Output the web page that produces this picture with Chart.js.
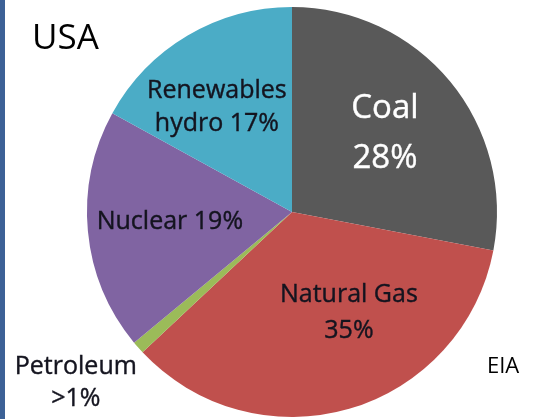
<!DOCTYPE html>
<html>
<head>
<meta charset="utf-8">
<script src="https://cdn.jsdelivr.net/npm/chart.js@4"></script>
<style>
  html, body { margin: 0; padding: 0; background: #ffffff; }
  #wrap { width: 540px; height: 419px; position: relative; }
</style>
</head>
<body>
<div id="wrap"><canvas id="c" width="540" height="419"></canvas></div>
<script>
// US electricity generation by source (share, %)
const categories = ['Coal', 'Natural Gas', 'Petroleum', 'Nuclear', 'Renewables hydro'];
const shares = [28, 35, 1, 19, 17];
// how each share is written on the chart
const sharePrefix = ['', '', '>', '', ''];
const sliceColors = ['#595959', '#C0504D', '#9BBB59', '#8064A2', '#4BACC6'];
const title = 'USA';
const source = 'EIA';

const FONT = '"Open Sans", "Liberation Sans", sans-serif';
const DARK = '#14141f';

// label lines per slice: text is composed from the category and share
function labelLines(i) {
  const pct = sharePrefix[i] + shares[i] + '%';
  switch (categories[i]) {
    case 'Nuclear': return [categories[i] + ' ' + pct];
    case 'Renewables hydro': return ['Renewables', 'hydro ' + pct];
    default: return [categories[i], pct];
  }
}

// placement of each label block: compass angle (deg, clockwise from top) and distance as a fraction of the radius
const labelPlacement = [
  { angle: 49.1,  dist: 0.600, size: 33, gap: 50, color: '#ffffff' },
  { angle: 150.1, dist: 0.557, size: 25, gap: 36, color: DARK },
  { angle: 231.9, dist: 1.340, size: 25, gap: 32, color: DARK },
  { angle: 266.2, dist: 0.597, size: 25, gap: 0,  color: DARK },
  { angle: 324.7, dist: 0.634, size: 25, gap: 33, color: DARK }
];

const decorPlugin = {
  id: 'decor',
  beforeDraw(chart) {
    const ctx = chart.ctx;
    ctx.save();
    ctx.fillStyle = '#ffffff';
    ctx.fillRect(0, 0, chart.width, chart.height);
    // frame bar on the left edge
    ctx.fillStyle = '#3C6196';
    ctx.fillRect(0, 0, 5, chart.height);
    ctx.restore();
  },
  afterDatasetsDraw(chart) {
    const ctx = chart.ctx;
    const arcs = chart.getDatasetMeta(0).data;
    ctx.save();
    ctx.textAlign = 'center';
    ctx.textBaseline = 'alphabetic';
    arcs.forEach((arc, i) => {
      const p = labelPlacement[i];
      const a = p.angle * Math.PI / 180;
      const cx = arc.x + Math.sin(a) * arc.outerRadius * p.dist;
      const cy = arc.y - Math.cos(a) * arc.outerRadius * p.dist;
      const lines = labelLines(i);
      ctx.font = p.size + 'px ' + FONT;
      ctx.fillStyle = p.color;
      ctx.strokeStyle = p.color;
      ctx.lineWidth = 0.4;
      const n = lines.length;
      lines.forEach((t, k) => {
        const ly = cy + (k - (n - 1) / 2) * p.gap + p.size * 0.357;
        ctx.fillText(t, cx, ly);
        ctx.strokeText(t, cx, ly);
      });
    });
    // title and source
    ctx.textAlign = 'left';
    ctx.fillStyle = '#000000';
    ctx.font = '35px ' + FONT;
    ctx.fillText(title, 32, 49);
    ctx.font = '22px ' + FONT;
    ctx.fillText(source, 487, 373);
    ctx.restore();
  }
};

new Chart(document.getElementById('c'), {
  type: 'pie',
  data: {
    labels: categories,
    datasets: [{
      data: shares,
      backgroundColor: sliceColors,
      borderWidth: 0
    }]
  },
  options: {
    responsive: false,
    animation: false,
    layout: { padding: { left: 87, right: 43, top: 7, bottom: 2 } },
    plugins: {
      legend: { display: false },
      tooltip: { enabled: false },
      title: { display: false }
    }
  },
  plugins: [decorPlugin]
});
</script>
</body>
</html>
